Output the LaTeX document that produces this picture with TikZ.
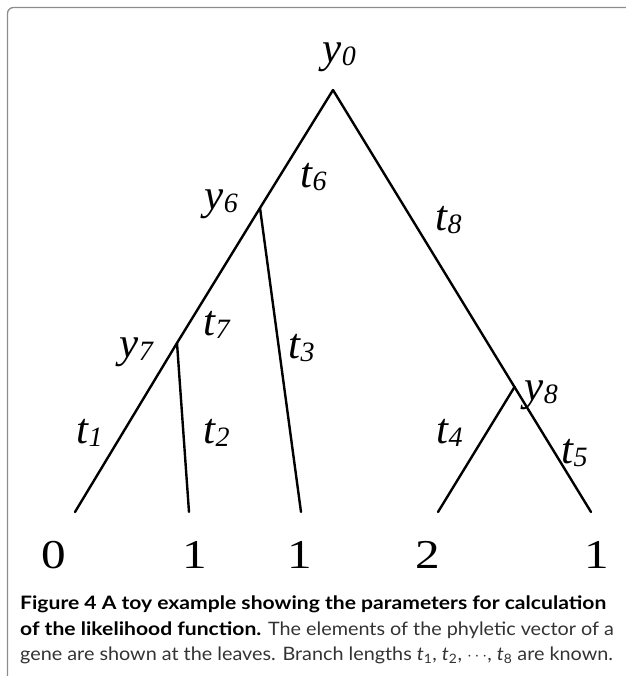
\documentclass[tikz,border=0pt]{standalone}
\usepackage{fontspec}
\setmainfont{Liberation Serif}
\newfontfamily\capfont[FakeStretch=1.07,BoldFeatures={FakeStretch=1.14}]{Lato}
\newcommand\lbltext[2]{#1\kern0.5pt{\fontsize{28}{28}\selectfont\raisebox{-3pt}{#2}}}
\newcommand\leafdigit[1]{\scalebox{1.2}[1]{#1}}
\begin{document}
\begin{tikzpicture}[x=1pt,y=-1pt,
  branch/.style={line width=2.4pt, line cap=round},
  lbl/.style={font=\fontsize{43}{43}\selectfont\itshape, inner sep=0pt, anchor=base west},
  leaf/.style={font=\fontsize{41}{41}\selectfont, inner sep=0pt, anchor=base},
  captext/.style={font=\capfont\fontsize{18.5}{22}\selectfont, inner sep=0pt, anchor=base west},
  framebox/.style={draw=black!45, line width=1.3pt, rounded corners=6pt}]
\useasboundingbox (0,0) rectangle (625,676);
% frame
\draw[framebox] (7.5,680) -- (7.5,7.5) -- (630,7.5);
% tree points
\coordinate (r) at (333,90);
\coordinate (n6) at (260,208);
\coordinate (n7) at (177,343);
\coordinate (n8) at (514.5,387);
\coordinate (l1) at (75,512);
\coordinate (l2) at (189,512);
\coordinate (l3) at (301,512);
\coordinate (l4) at (438,512);
\coordinate (l5) at (591,512);
% branches
\draw[branch] (r) -- (n6);
\draw[branch] (n6) -- (n7);
\draw[branch] (n7) -- (l1);
\draw[branch] (n7) -- (l2);
\draw[branch] (n6) -- (l3);
\draw[branch] (r) -- (n8);
\draw[branch] (n8) -- (l5);
\draw[branch] (n8) -- (l4);
% labels
\node[lbl] (ly0) at (322,63) {\lbltext{y}{0}};
\node[lbl] (ly6) at (204,209) {\lbltext{y}{6}};
\node[lbl] (ly7) at (119,357) {\lbltext{y}{7}};
\node[lbl] (ly8) at (524,400) {\lbltext{y}{8}};
\node[lbl] (lt6) at (300,188) {\lbltext{t}{6}};
\node[lbl] (lt8) at (435,230) {\lbltext{t}{8}};
\node[lbl] (lt7) at (203,335) {\lbltext{t}{7}};
\node[lbl] (lt3) at (288,358) {\lbltext{t}{3}};
\node[lbl] (lt1) at (76,443) {\lbltext{t}{1}};
\node[lbl] (lt2) at (203,443) {\lbltext{t}{2}};
\node[lbl] (lt4) at (436,443) {\lbltext{t}{4}};
\node[lbl] (lt5) at (561,463) {\lbltext{t}{5}};
% leaves
\node[leaf] (v1) at (54,568) {\leafdigit{0}};
\node[leaf] (v2) at (195,568) {\leafdigit{1}};
\node[leaf] (v3) at (300,568) {\leafdigit{1}};
\node[leaf] (v4) at (428,568) {\leafdigit{2}};
\node[leaf] (v5) at (597,568) {\leafdigit{1}};
% caption
\node[captext] (c1) at (20,609) {\textbf{Figure 4 A toy example showing the parameters for calculation}};
\node[captext] (c2) at (20,635) {\textbf{of the likelihood function.} \textcolor{black!80}{The elements of the phyletic vector of a}};
\node[captext,text=black!80] (c3) at (20,660) {gene are shown at the leaves. Branch lengths \textit{t}\textsubscript{1}, \textit{t}\textsubscript{2}, $\cdots$, \textit{t}\textsubscript{8} are known.};
\end{tikzpicture}
\end{document}
